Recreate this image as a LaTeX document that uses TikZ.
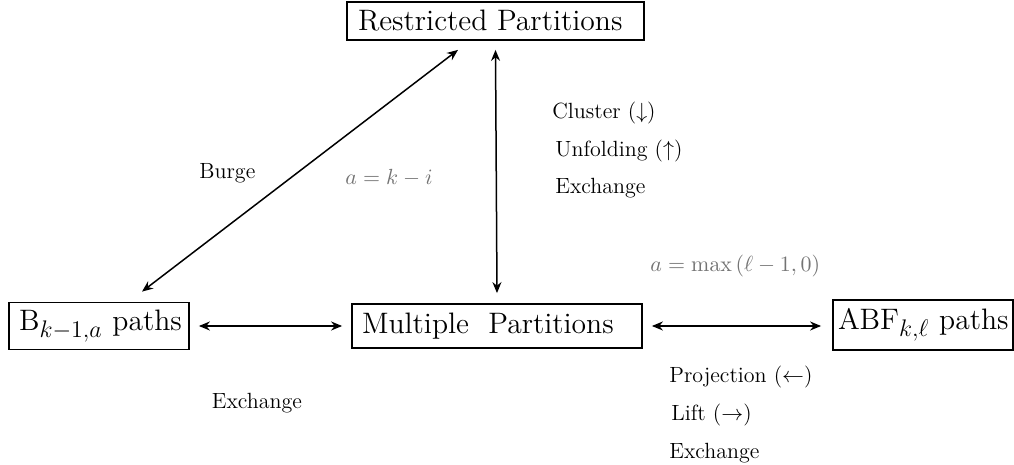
\documentclass[tikz,border=0pt]{standalone}
\usetikzlibrary{arrows.meta}
\DeclareMathSizes{14.8}{14.8}{11.5}{9}
\begin{document}
\begin{tikzpicture}[x=0.5pt,y=-0.5pt,
  boxnode/.style={draw,line width=0.9pt,inner ysep=0pt,
    font=\fontsize{14.8}{17}\selectfont},
  lbl/.style={anchor=west,inner sep=0pt,font=\fontsize{11}{13}\selectfont},
  glbl/.style={lbl,text=black!55},
  conn/.style={line width=0.75pt,{Stealth[length=5.5pt,width=4.5pt]}-{Stealth[length=5.5pt,width=4.5pt]}}]
\useasboundingbox (0,0) rectangle (1014,465);
\node[boxnode,inner xsep=5.5pt,minimum height=19pt] (rp) at (495.5,21) {\makebox[137.5pt][l]{Restricted Partitions}};
\node[boxnode,inner xsep=5pt,minimum height=23.5pt] (b) at (99,326) {\makebox[80pt][l]{B$_{k-1,a}$ paths}};
\node[boxnode,inner xsep=5pt,minimum height=22pt] (mp) at (497,326) {\makebox[135pt][l]{Multiple\ \ Partitions}};
\node[boxnode,inner xsep=2.5pt,minimum height=25pt] (abf) at (923,325) {\makebox[85pt][l]{ABF$_{k,\ell}$ paths}};

\draw[conn] ([xshift=21.5pt,yshift=5pt]b.north) -- ([xshift=-18.75pt,yshift=-4.5pt]rp.south);
\draw[conn] ([yshift=-4.5pt]rp.south) -- ([yshift=5pt]mp.north);
\draw[conn] ([xshift=4.5pt]b.east) -- ([xshift=-4.5pt]mp.west);
\draw[conn] ([xshift=4.5pt]mp.east) -- ([xshift=-5.5pt]abf.west |- mp.east);

\node[lbl] (burge) at (199,173) {Burge};
\node[glbl] (aki) at (345,178) {$a=k-i$};
\node[lbl] (cl) at (552,113) {Cluster ($\downarrow$)};
\node[lbl] (unf) at (555,151) {Unfolding ($\uparrow$)};
\node[lbl] (ex1) at (555,188) {Exchange};
\node[glbl] (amax) at (650,266) {$a=\max\left(\ell-1,0\right)$};
\node[lbl,anchor=center] (ex2) at (257,403) {Exchange};
\node[lbl] (proj) at (669,377) {Projection ($\leftarrow$)};
\node[lbl] (lift) at (671,415) {Lift ($\rightarrow$)};
\node[lbl] (ex3) at (669,453) {Exchange};
\end{tikzpicture}
\end{document}
